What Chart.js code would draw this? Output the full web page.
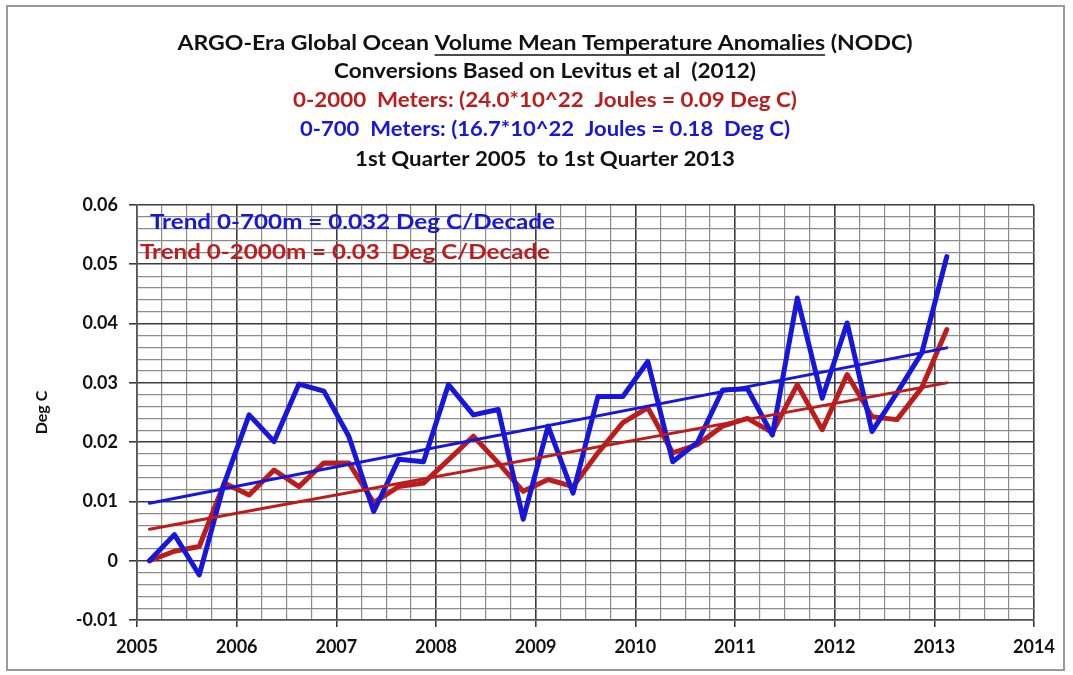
<!DOCTYPE html>
<html>
<head>
<meta charset="utf-8">
<title>ARGO-Era Global Ocean Volume Mean Temperature Anomalies</title>
<script src="https://cdn.jsdelivr.net/npm/chart.js@4.4.1/dist/chart.umd.min.js"></script>
<style>
  html, body { margin: 0; padding: 0; background: #fff; }
  #wrap { position: relative; width: 1073px; height: 675px; }
</style>
</head>
<body>
<div id="wrap"><canvas id="ohcChart"></canvas></div>
<script>
// quarterly time stamps (mid-quarter), 1st Quarter 2005 .. 1st Quarter 2013
const quarters = [
  2005.125, 2005.375, 2005.625, 2005.875,
  2006.125, 2006.375, 2006.625, 2006.875,
  2007.125, 2007.375, 2007.625, 2007.875,
  2008.125, 2008.375, 2008.625, 2008.875,
  2009.125, 2009.375, 2009.625, 2009.875,
  2010.125, 2010.375, 2010.625, 2010.875,
  2011.125, 2011.375, 2011.625, 2011.875,
  2012.125, 2012.375, 2012.625, 2012.875,
  2013.125
];

// 0-700 m volume mean temperature anomaly (Deg C)
const temp700 = [
  0.0000, 0.0044, -0.0024, 0.0130,
  0.0246, 0.0201, 0.0298, 0.0286,
  0.0210, 0.0083, 0.0171, 0.0167,
  0.0297, 0.0246, 0.0255, 0.0070,
  0.0227, 0.0114, 0.0277, 0.0277,
  0.0336, 0.0167, 0.0200, 0.0288,
  0.0290, 0.0212, 0.0443, 0.0274,
  0.0401, 0.0218, 0.0283, 0.0351,
  0.0513
];

// 0-2000 m volume mean temperature anomaly (Deg C)
const temp2000 = [
  0.0000, 0.0016, 0.0024, 0.0131,
  0.0111, 0.0153, 0.0125, 0.0165,
  0.0165, 0.0098, 0.0125, 0.0131,
  0.0170, 0.0210, 0.0165, 0.0117,
  0.0137, 0.0125, 0.0182, 0.0233,
  0.0258, 0.0182, 0.0196, 0.0227,
  0.0240, 0.0216, 0.0297, 0.0221,
  0.0314, 0.0243, 0.0238, 0.0292,
  0.0390
];

// linear trend end points
const trendX = [2005.125, 2013.125];
const trend700 = [0.0097, 0.0359];
const trend2000 = [0.0053, 0.0300];

// axis ranges
const yMin = -0.01, yMax = 0.06, yStep = 0.002;
const xMin = 2005, xMax = 2014, xStep = 0.25;

const BLUE = '#1616dc';
const RED = '#bc1c1c';
const FONT = "Lato, 'Open Sans', sans-serif";

const pts = (xs, ys) => xs.map((x, i) => ({ x: x, y: ys[i] }));

const isMajorY = v => Math.abs(v * 100 - Math.round(v * 100)) < 1e-6;
const isMajorX = v => Math.abs(v - Math.round(v)) < 1e-6;

// titles and trend captions drawn on the canvas (w = width to squeeze/stretch into)
const titleLines = [
  { text: 'ARGO-Era Global Ocean Volume Mean Temperature Anomalies (NODC)', color: '#111', y: 44, w: 735 },
  { text: 'Conversions Based on Levitus et al  (2012)', color: '#111', y: 72, w: 422 },
  { text: '0-2000  Meters: (24.0*10^22  Joules = 0.09 Deg C)', color: RED, y: 101, w: 504 },
  { text: '0-700  Meters: (16.7*10^22  Joules = 0.18  Deg C)', color: BLUE, y: 130, w: 490 },
  { text: '1st Quarter 2005  to 1st Quarter 2013', color: '#111', y: 160, w: 380 }
];
const underlined = 'Volume Mean Temperature Anomalies';
const trendNotes = [
  { text: 'Trend 0-700m = 0.032 Deg C/Decade', color: BLUE, x: 150, y: 222, w: 405 },
  { text: 'Trend 0-2000m = 0.03  Deg C/Decade', color: RED, x: 140, y: 252, w: 410 }
];

function stretchedText(c, text, x, y, w) {
  const sx = w / c.measureText(text).width;
  c.save();
  c.translate(x, y);
  c.scale(sx, 1);
  c.fillText(text, 0, 0);
  c.restore();
  return sx;
}

const textPlugin = {
  id: 'texts',
  beforeDraw(chart) {
    const c = chart.ctx;
    c.save();
    c.fillStyle = '#fff';
    c.fillRect(0, 0, chart.width, chart.height);
    c.strokeStyle = '#9a9a9a';
    c.lineWidth = 2;
    c.strokeRect(7, 6, 1057, 664);
    c.restore();
  },
  afterDraw(chart) {
    const c = chart.ctx;
    c.save();
    c.font = 'bold 20px ' + FONT;
    c.textBaseline = 'middle';
    c.textAlign = 'left';
    const cx = 545;
    titleLines.forEach((ln, i) => {
      const x0 = cx - ln.w / 2;
      c.fillStyle = ln.color;
      const sx = stretchedText(c, ln.text, x0, ln.y, ln.w);
      if (i === 0) {
        const k = ln.text.indexOf(underlined);
        const ux = x0 + c.measureText(ln.text.slice(0, k)).width * sx;
        const uw = c.measureText(underlined).width * sx;
        c.strokeStyle = '#111';
        c.lineWidth = 1.5;
        c.beginPath();
        c.moveTo(ux, ln.y + 11);
        c.lineTo(ux + uw, ln.y + 11);
        c.stroke();
      }
    });
    c.font = 'bold 21px ' + FONT;
    trendNotes.forEach(t => {
      c.fillStyle = t.color;
      stretchedText(c, t.text, t.x, t.y, t.w);
    });
    c.restore();
  }
};

new Chart(document.getElementById('ohcChart'), {
  type: 'line',
  data: {
    datasets: [
      { label: 'Trend 0-700m', data: pts(trendX, trend700), borderColor: BLUE, borderWidth: 3 },
      { label: 'Trend 0-2000m', data: pts(trendX, trend2000), borderColor: RED, borderWidth: 3 },
      { label: '0-700 Meters', data: pts(quarters, temp700), borderColor: BLUE, borderWidth: 5 },
      { label: '0-2000 Meters', data: pts(quarters, temp2000), borderColor: RED, borderWidth: 5 }
    ]
  },
  options: {
    responsive: true,
    maintainAspectRatio: false,
    animation: false,
    elements: { point: { radius: 0, hoverRadius: 0 }, line: { tension: 0, borderJoinStyle: 'round', borderCapStyle: 'round' } },
    layout: { padding: { top: 205, right: 39, left: 0, bottom: 0 } },
    plugins: { legend: { display: false }, tooltip: { enabled: false } },
    scales: {
      x: {
        type: 'linear',
        min: xMin, max: xMax,
        afterFit: s => { s.height = 55; },
        ticks: {
          stepSize: xStep, autoSkip: false, maxRotation: 0, padding: 9,
          color: '#111', font: { family: FONT, size: 18, weight: 'bold' },
          callback: v => isMajorX(v) ? String(Math.round(v)) : ''
        },
        grid: {
          color: c => isMajorX(c.tick.value) ? '#3c3c3c' : '#8c8c8c',
          lineWidth: c => isMajorX(c.tick.value) ? 1.6 : 1.2,
          tickColor: c => isMajorX(c.tick.value) ? '#3c3c3c' : 'rgba(0,0,0,0)',
          tickLength: 7
        },
        border: { display: true, color: '#555', width: 1.5 }
      },
      y: {
        min: yMin, max: yMax,
        afterFit: s => { s.width = 137; },
        ticks: {
          stepSize: yStep, autoSkip: false, maxTicksLimit: 100, padding: 11,
          color: '#111', font: { family: FONT, size: 18, weight: 'bold' },
          callback: v => isMajorY(v) ? String(Number(v.toFixed(2))) : ''
        },
        grid: {
          color: c => isMajorY(c.tick.value) ? '#3c3c3c' : '#8c8c8c',
          lineWidth: c => isMajorY(c.tick.value) ? 1.6 : 1.2,
          tickColor: c => isMajorY(c.tick.value) ? '#3c3c3c' : 'rgba(0,0,0,0)',
          tickLength: 8
        },
        border: { display: true, color: '#555', width: 1.5 },
        title: {
          display: true, text: 'Deg C', color: '#111',
          font: { family: FONT, size: 16, weight: 'bold' },
          padding: { top: 32, bottom: 0 }
        }
      }
    }
  },
  plugins: [textPlugin]
});
</script>
</body>
</html>
